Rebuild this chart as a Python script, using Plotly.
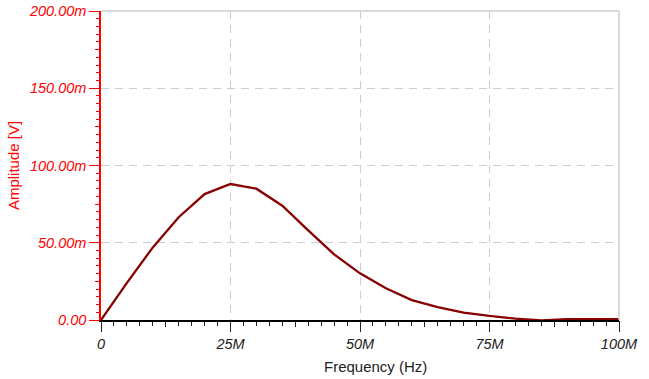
import plotly.graph_objects as go

freq_mhz = [0, 5, 10, 15, 20, 25, 30, 35, 40, 45, 50, 55, 60, 65, 70, 75, 80, 85, 90, 95, 100]
amp_mv = [0, 24, 47, 66.5, 81.5, 88, 85, 74, 58, 42.5, 30.2, 20.5, 12.9, 8.3, 4.8, 2.6, 0.9, -0.3, 0.5, 0.5, 0.5]

x_tickvals = [0, 25e6, 50e6, 75e6, 100e6]
x_ticktext = ["0", "25M", "50M", "75M", "100M"]
y_tickvals = [0, 0.05, 0.10, 0.15, 0.20]
y_ticktext = ["0.00", "50.00m", "100.00m", "150.00m", "200.00m"]

x = [f * 1e6 for f in freq_mhz]
y = [a / 1000 for a in amp_mv]

FONT = "Liberation Sans, Arial, sans-serif"
RED = "#ff0000"

fig = go.Figure()
fig.add_trace(go.Scatter(x=x, y=y, mode="lines",
                         line=dict(color="#880000", width=2.3), showlegend=False,
                         hoverinfo="skip"))
# invisible trace on secondary axes to host medium ticks
fig.add_trace(go.Scatter(x=[0, 100e6], y=[0, 0.2], xaxis="x2", yaxis="y2",
                         mode="markers", marker=dict(opacity=0), showlegend=False,
                         hoverinfo="skip"))

fig.update_layout(
    width=649, height=379,
    margin=dict(l=101, r=30, t=11, b=59),
    paper_bgcolor="white", plot_bgcolor="white",
    font=dict(family=FONT, size=14),
    xaxis=dict(
        range=[0, 100e6], tickvals=x_tickvals, ticktext=x_ticktext,
        tickfont=dict(family=FONT, size=14.5, color="#222222", style="italic"),
        showline=True, linecolor="black", linewidth=1.5,
        ticks="outside", ticklen=10, tickcolor="#222222", tickwidth=1,
        showgrid=True, gridcolor="#cccccc", griddash="8px,6px", gridwidth=1,
        zeroline=False, automargin=False,
        minor=dict(ticks="outside", ticklen=4, dtick=2.5e6, tickcolor="#222222", showgrid=False),
    ),
    yaxis=dict(
        range=[0, 0.2], tickvals=y_tickvals, ticktext=y_ticktext,
        tickfont=dict(family=FONT, size=14.5, color=RED, style="italic"),
        showline=True, linecolor=RED, linewidth=1.5,
        ticks="outside", ticklen=10, tickcolor=RED, tickwidth=1,
        showgrid=True, gridcolor="#cccccc", griddash="8px,6px", gridwidth=1,
        zeroline=False, automargin=False,
        minor=dict(ticks="outside", ticklen=3, dtick=0.005, tickcolor=RED, showgrid=False),
        title=dict(text="Amplitude [V]", font=dict(family=FONT, size=15, color=RED), standoff=6),
    ),
    xaxis2=dict(range=[0, 100e6], overlaying="x", anchor="y", showgrid=False,
                zeroline=False, showticklabels=False, ticks="outside", ticklen=6,
                dtick=12.5e6, tickcolor="#222222", automargin=False),
    yaxis2=dict(range=[0, 0.2], overlaying="y", anchor="x", showgrid=False,
                zeroline=False, showticklabels=False, ticks="outside", ticklen=5,
                dtick=0.025, tickcolor=RED, automargin=False),
    annotations=[
        dict(text="Frequency (Hz)", xref="paper", yref="paper", x=0.5, y=0,
             xanchor="center", yanchor="middle", xshift=15, yshift=-46,
             showarrow=False, font=dict(family=FONT, size=15, color="#222222")),
    ],
    shapes=[
        dict(type="line", xref="paper", yref="paper", x0=0, x1=1, y0=1, y1=1,
             line=dict(color="#cccccc", width=1.5)),
        dict(type="line", xref="paper", yref="paper", x0=1, x1=1, y0=0, y1=1,
             line=dict(color="#cccccc", width=1.5)),
    ],
)

fig.write_html("out.html", config={"displayModeBar": False},
               post_script="document.body.style.margin='0';document.body.style.padding='0';")
